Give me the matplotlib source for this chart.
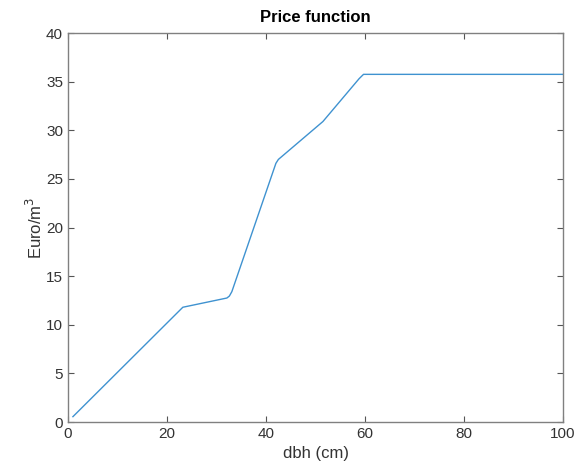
import matplotlib.pyplot as plt

# diameter at breast height (cm) and price (Euro/m^3)
dbh = [1, 23.2, 32.1, 32.6, 33.1, 42.0, 42.5, 51.5, 58.8, 59.7, 100]
price = [0.55, 11.8, 12.75, 12.95, 13.4, 26.6, 27.0, 30.9, 35.3, 35.75, 35.75]

plt.rcParams["font.family"] = ["Liberation Sans", "DejaVu Sans"]

fig = plt.figure(figsize=(5.78, 4.69), dpi=100)
ax = fig.add_axes([0.1176, 0.1002, 0.8565, 0.8294])

ax.plot(dbh, price, color="#3f92d0", linewidth=1.0)

ax.set_xlim(0, 100)
ax.set_ylim(0, 40)
ax.set_xticks(range(0, 101, 20))
ax.set_yticks(range(0, 41, 5))

for side in ax.spines.values():
    side.set_color("#808080")
    side.set_linewidth(1.0)
ax.tick_params(direction="in", length=4, width=0.8, color="#555555",
               labelcolor="#333333", labelsize=11,
               top=True, right=True, labeltop=False, labelright=False)

ax.set_xlabel("dbh (cm)", fontsize=12, color="#333333")
ax.set_ylabel("Euro/m$^3$", fontsize=12, color="#333333", labelpad=1)
ax.set_title("Price function", fontsize=12, fontweight="bold", color="black", pad=8)

fig.savefig("out.png", dpi=100)
